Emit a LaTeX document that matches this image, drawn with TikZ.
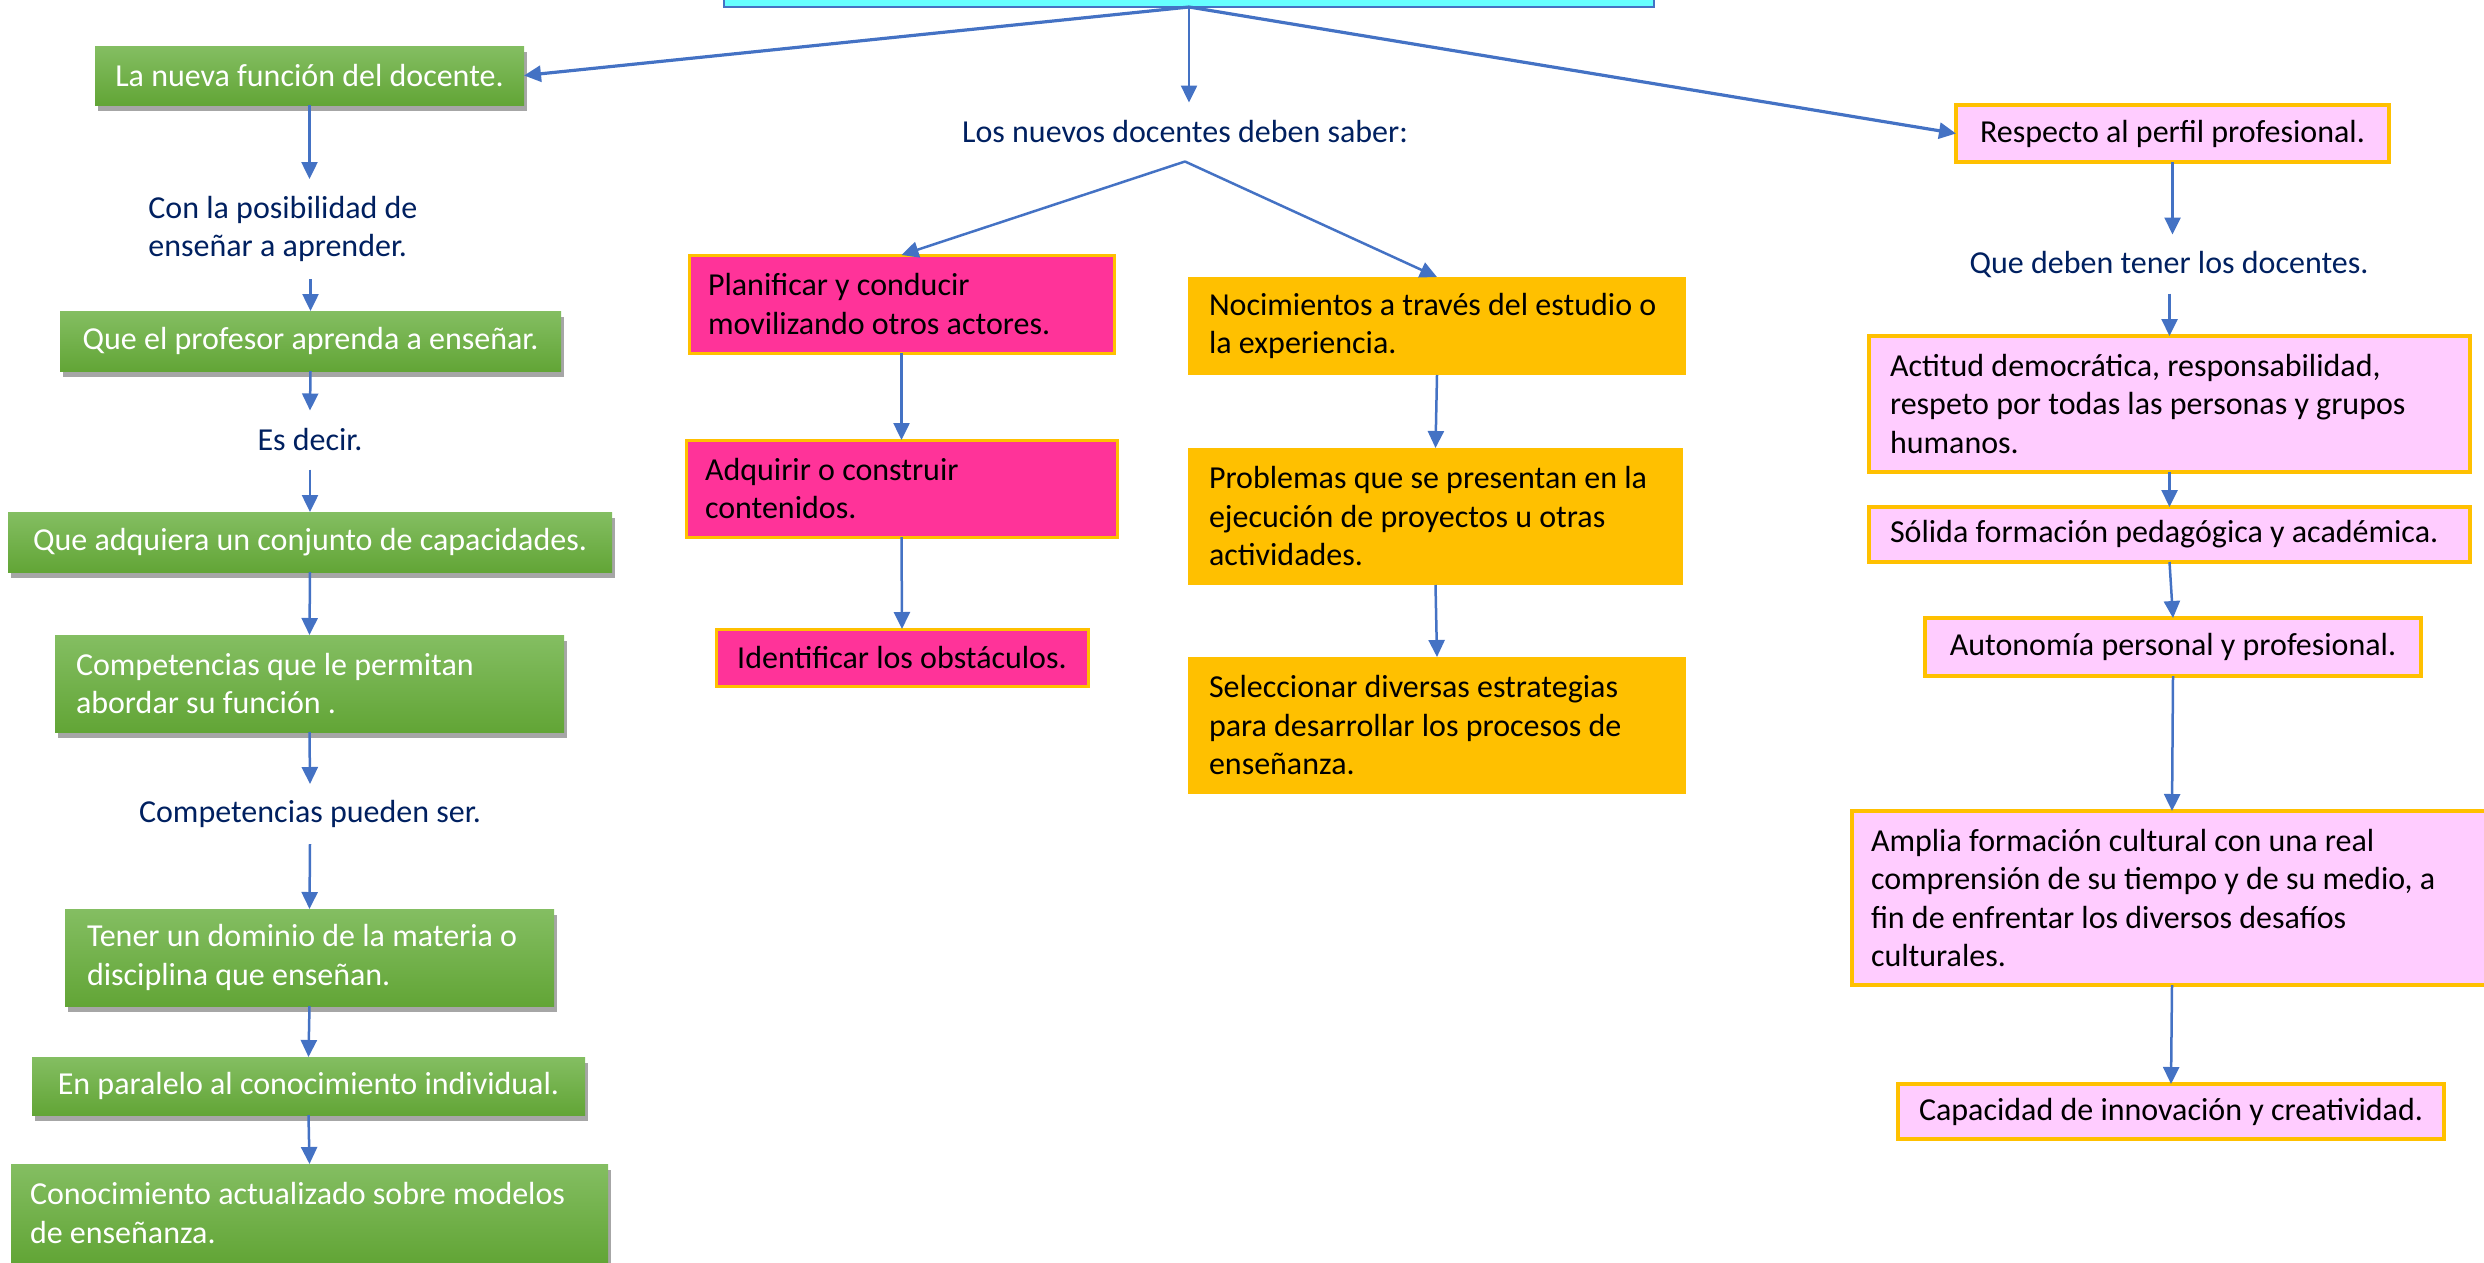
\documentclass[tikz,border=0pt]{standalone}
\usepackage{fontspec}
\setmainfont{Carlito}
\usetikzlibrary{arrows.meta,shadows}
\definecolor{navy}{HTML}{002060}
\definecolor{arrowblue}{HTML}{4472C4}
\definecolor{gtop}{HTML}{84BE62}
\definecolor{gbot}{HTML}{62A536}
\definecolor{hotpink}{HTML}{FF3399}
\definecolor{gold}{HTML}{FFC000}
\definecolor{lpink}{HTML}{FFCCFF}
\definecolor{cyanbox}{HTML}{66FFFF}
\tikzset{
  txt/.style={font=\fontsize{32pt}{38.5pt}\selectfont},
  base/.style={txt, anchor=north west, inner ysep=0pt, outer sep=0pt},
  gbox/.style={base, shading=axis, top color=gtop, bottom color=gbot, text=white,
    drop shadow={shadow xshift=3pt, shadow yshift=-6pt, opacity=0.35, fill=black}},
  pbox/.style={base, fill=hotpink, draw=gold, line width=3pt, text=black},
  obox/.style={base, fill=gold, text=black},
  rbox/.style={base, fill=lpink, draw=gold, line width=3.5pt, text=black},
  lbl/.style={txt, text=navy, inner xsep=0pt, inner ysep=0pt, outer sep=0pt},
  arr/.style={draw=arrowblue, line width=2.5pt, -{Triangle[length=17pt,width=16pt]}},
  tarr/.style={arr, line width=3.2pt},
}
\begin{document}
\begin{tikzpicture}[x=1pt,y=-1pt]
\useasboundingbox (0,0) rectangle (2484,1262);

% top box
\node[draw=arrowblue, fill=cyanbox, line width=2.5pt, minimum width=930pt, minimum height=60pt, anchor=south, outer sep=0pt] (top) at (1189,7) {};

% left column
\node[gbox, minimum width=429pt, minimum height=59pt] (g1) at (95,46) {La nueva función del docente.};
\node[lbl, align=flush left, minimum height=100pt] (t1) at (283,229) {Con la posibilidad de\\enseñar a aprender.};
\node[gbox, minimum width=501pt, minimum height=60pt] (g2) at (60,311) {Que el profesor aprenda a enseñar.};
\node[lbl, minimum height=59pt] (t2) at (310,440) {Es decir.};
\node[gbox, minimum width=604pt, minimum height=60pt] (g3) at (8,512) {Que adquiera un conjunto de capacidades.};
\node[gbox, minimum width=509pt, minimum height=97pt, inner xsep=21pt, text width=467pt, align=flush left] (g4) at (55,635) {Competencias que le permitan\\abordar su función .};
\node[lbl, minimum height=60pt] (t3) at (310,814) {Competencias pueden ser.};
\node[gbox, minimum width=489pt, minimum height=97pt, inner xsep=22pt, text width=445pt, align=flush left] (g5) at (65,909) {Tener un dominio de la materia o\\disciplina que enseñan.};
\node[gbox, minimum width=553pt, minimum height=58pt] (g6) at (32,1057) {En paralelo al conocimiento individual.};
\node[gbox, minimum width=597pt, minimum height=98pt, inner xsep=19pt, text width=559pt, align=flush left] (g7) at (11,1164) {Conocimiento actualizado sobre modelos\\de enseñanza.};

% middle
\node[lbl, minimum height=59pt] (ln) at (1185,132) {Los nuevos docentes deben saber:};
\node[pbox, minimum width=425pt, minimum height=98pt, inner xsep=19pt, text width=387pt, align=flush left] (p1) at (689,255) {Planificar y conducir\\movilizando otros actores.};
\node[pbox, minimum width=431pt, minimum height=97pt, inner xsep=19pt, text width=393pt, align=flush left] (p2) at (686,440) {Adquirir o construir\\contenidos.};
\node[pbox, minimum width=372pt, minimum height=57pt] (p3) at (716,629) {Identificar los obstáculos.};
\node[obox, minimum width=498pt, minimum height=98pt, inner xsep=21pt, text width=456pt, align=flush left] (o1) at (1188,277) {Nocimientos a través del estudio o\\la experiencia.};
\node[obox, minimum width=495pt, minimum height=137pt, inner xsep=21pt, text width=453pt, align=flush left] (o2) at (1188,448) {Problemas que se presentan en la\\ejecución de proyectos u otras\\actividades.};
\node[obox, minimum width=498pt, minimum height=137pt, inner xsep=21pt, text width=456pt, align=flush left] (o3) at (1188,657) {Seleccionar diversas estrategias\\para desarrollar los procesos de\\enseñanza.};

% right column
\node[rbox, minimum width=433pt, minimum height=57pt] (r1) at (1956,105) {Respecto al perfil profesional.};
\node[lbl, minimum height=59pt] (t4) at (2169,264) {Que deben tener los docentes.};
\node[rbox, minimum width=601pt, minimum height=136pt, inner xsep=21pt, text width=559pt, align=flush left] (r2) at (1869,336) {Actitud democrática, responsabilidad,\\respeto por todas las personas y grupos\\humanos.};
\node[rbox, minimum width=601pt, minimum height=55pt, inner xsep=21pt, text width=559pt, align=flush left] (r3) at (1869,507) {Sólida formación pedagógica y académica.};
\node[rbox, minimum width=496pt, minimum height=58pt] (r4) at (1925,618) {Autonomía personal y profesional.};
\node[rbox, minimum width=640pt, minimum height=174pt, inner xsep=19pt, text width=602pt, align=flush left] (r5) at (1852,811) {Amplia formación cultural con una real\\comprensión de su tiempo y de su medio, a\\fin de enfrentar los diversos desafíos\\culturales.};
\node[rbox, minimum width=546pt, minimum height=55pt] (r6) at (1898,1084) {Capacidad de innovación y creatividad.};

% connectors from the top
\draw[tarr] (top.south) -- (g1.east);
\draw[arr] (top.south) -- (top.south |- ln.north);
\draw[tarr] (top.south) -- (r1.west);

% left chain
\draw[arr] (g1.south) -- (g1.south |- t1.north);
\draw[arr] (t1.south -| g2.north) -- (g2.north);
\draw[arr] (g2.south) -- (t2.north);
\draw[arr] (t2.south) -- (g3.north);
\draw[arr] (g3.south) -- (g4.north);
\draw[arr] (g4.south) -- (t3.north);
\draw[arr] (t3.south) -- (g5.north);
\draw[arr] (g5.south) -- (g6.north);
\draw[arr] (g6.south) -- (g7.north);

% middle
\draw[arr] (ln.south) -- (p1.north);
\draw[arr] (ln.south) -- (o1.north);
\draw[arr] (p1.south) -- (p2.north);
\draw[arr] (p2.south) -- (p3.north);
\draw[arr] (o1.south) -- (o2.north);
\draw[arr] (o2.south) -- (o3.north);

% right
\draw[arr] (r1.south) -- (r1.south |- t4.north);
\draw[arr] (t4.south -| r2.north) -- (r2.north);
\draw[arr] (r2.south) -- (r3.north);
\draw[arr] (r3.south) -- (r4.north);
\draw[arr] (r4.south) -- (r5.north);
\draw[arr] (r5.south) -- (r6.north);
\end{tikzpicture}
\end{document}
